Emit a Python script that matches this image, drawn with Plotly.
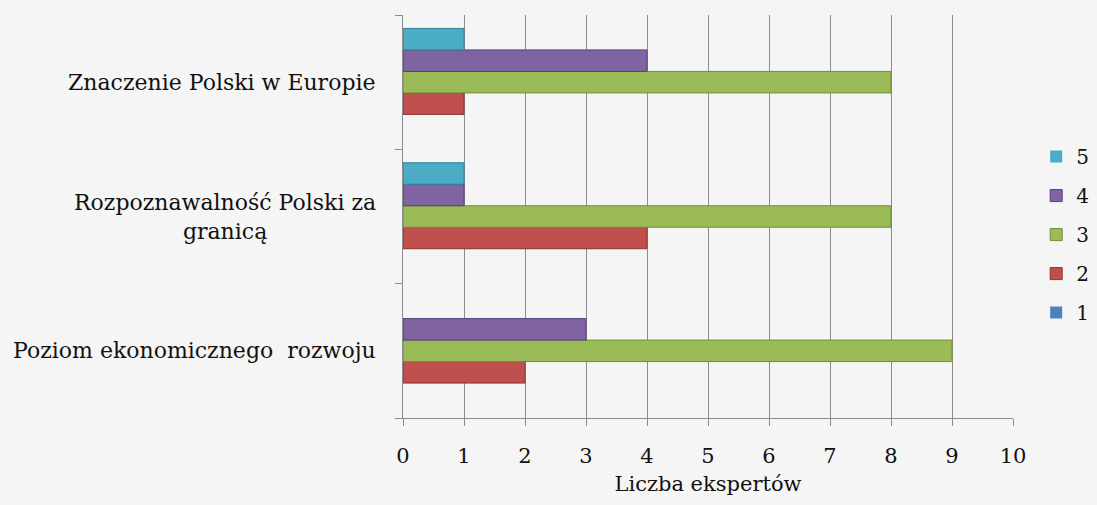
import plotly.graph_objects as go

categories = ["Poziom ekonomicznego  rozwoju", "Rozpoznawalność Polski za granicą", "Znaczenie Polski w Europie"]
label_text = ["Poziom ekonomicznego  rozwoju", "Rozpoznawalność Polski za<br>granicą", "Znaczenie Polski w Europie"]
series_names = ["1", "2", "3", "4", "5"]
s1 = [0, 0, 0]
s2 = [2, 4, 1]
s3 = [9, 8, 8]
s4 = [3, 1, 4]
s5 = [0, 1, 1]
values = [s1, s2, s3, s4, s5]
colors = ["#4F81BD", "#C0504D", "#9BBB59", "#8064A2", "#4BACC6"]
edge_colors = ["#2F5E94", "#8E3330", "#6F8F32", "#563F7A", "#2F8098"]
x_ticks = list(range(0, 11))

FONT = "DejaVu Serif"

fig = go.Figure()
for i, (name, vals, c, ec) in enumerate(zip(series_names, values, colors, edge_colors)):
    fig.add_trace(go.Bar(
        y=categories, x=vals, name=name, orientation="h",
        marker=dict(color=c, line=dict(width=[1 if v else 0 for v in vals], color=ec)),
        legendgroup=name, legendrank=100 - i,
    ))

for cat, txt in zip(categories, label_text):
    fig.add_annotation(x=0, xref="paper", y=cat, yref="y", text=txt,
                       xanchor="right", yanchor="middle", xshift=-25,
                       align="center", showarrow=False,
                       font=dict(family=FONT, size=22, color="#111111"))

fig.update_layout(
    width=1097, height=505,
    paper_bgcolor="#F5F5F5", plot_bgcolor="#F5F5F5",
    margin=dict(l=403, r=84, t=15, b=87, autoexpand=False),
    barmode="group", bargap=0.2, bargroupgap=0,
    font=dict(family=FONT, size=21, color="#111111"),
    showlegend=True,
    legend=dict(traceorder="grouped", x=1.038, y=0.697, xanchor="left", yanchor="top",
                font=dict(family=FONT, size=20), tracegroupgap=10, itemwidth=30,
                bgcolor="rgba(0,0,0,0)"),
    xaxis=dict(range=[0, 10], tickvals=x_ticks, showgrid=True, gridcolor="#8C8C8C", gridwidth=1,
               showline=True, linecolor="#8C8C8C", ticks="outside", ticklen=7, tickcolor="#8C8C8C",
               zeroline=False, mirror=False, ticklabelstandoff=12,
               tickfont=dict(family=FONT, size=21),
               title=dict(text="Liczba ekspertów", font=dict(family=FONT, size=21), standoff=9)),
    yaxis=dict(type="category", showticklabels=False, showline=True, linecolor="#8C8C8C",
               ticks="outside", tickson="boundaries", ticklen=7, tickcolor="#8C8C8C",
               showgrid=False, zeroline=False),
)

fig.write_html("out.html", config={"displayModeBar": False},
               post_script="document.body.style.margin='0';")
